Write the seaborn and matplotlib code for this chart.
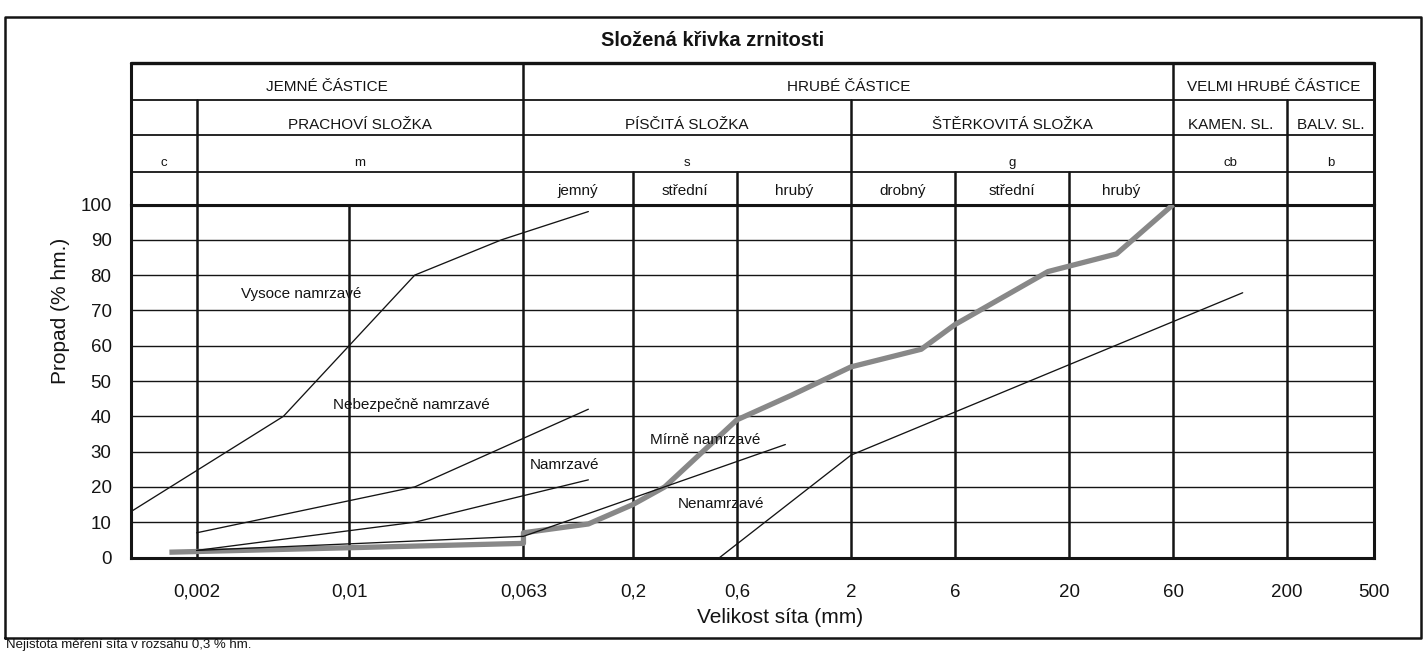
import numpy as np
import pandas as pd
import matplotlib
matplotlib.use('Agg')
import matplotlib.pyplot as plt
import seaborn as sns
from matplotlib.transforms import blended_transform_factory
from matplotlib.lines import Line2D
from matplotlib.ticker import NullLocator, FixedLocator, FixedFormatter

sns.set_theme(style='white')
plt.rcParams['font.family'] = ['Liberation Sans', 'DejaVu Sans']

# ---------------- data ----------------
sieve_ticks = [0.002, 0.01, 0.063, 0.2, 0.6, 2, 6, 20, 60, 200, 500]
sieve_labels = ['0,002', '0,01', '0,063', '0,2', '0,6', '2', '6', '20', '60', '200', '500']
y_ticks = [0, 10, 20, 30, 40, 50, 60, 70, 80, 90, 100]

# measured grading curve (thick grey)
sample_x = [0.0015, 0.063, 0.063, 0.125, 0.2, 0.28, 0.6, 1.07, 2, 4.2, 6, 16, 33, 60]
sample_y = [1.5, 4, 7, 9.5, 15, 20, 39, 46, 54, 59, 66, 81, 86, 100]

# frost-susceptibility boundary curves (thin)
vysoce_x = [0.001, 0.005, 0.02, 0.05, 0.125]
vysoce_y = [13, 40, 80, 90, 98]
nebezp_x = [0.002, 0.02, 0.125]
nebezp_y = [7, 20, 42]
namrz_x = [0.002, 0.02, 0.125]
namrz_y = [2, 10, 22]
mirne_x = [0.002, 0.063, 1.0]
mirne_y = [2, 6, 32]
nenamrz_x = [0.5, 2, 125]
nenamrz_y = [0, 29, 75]

zone_labels = ['Vysoce namrzavé', 'Nebezpečně namrzavé', 'Namrzavé', 'Mírně namrzavé', 'Nenamrzavé']
zone_label_pos = [(0.00319, 74.6), (0.00843, 43.1), (0.0675, 26.3), (0.24, 33.3), (0.322, 15.2)]

# header table
row1 = [('JEMNÉ ČÁSTICE', 0.001, 0.063), ('HRUBÉ ČÁSTICE', 0.063, 60), ('VELMI HRUBÉ ČÁSTICE', 60, 500)]
row2 = [('PRACHOVÍ SLOŽKA', 0.002, 0.063), ('PÍSČITÁ SLOŽKA', 0.063, 2), ('ŠTĚRKOVITÁ SLOŽKA', 2, 60),
        ('KAMEN. SL.', 60, 200), ('BALV. SL.', 200, 500)]
row3 = [('c', 0.001, 0.002), ('m', 0.002, 0.063), ('s', 0.063, 2), ('g', 2, 60), ('cb', 60, 200), ('b', 200, 500)]
row4 = [('jemný', 0.063, 0.2), ('střední', 0.2, 0.6), ('hrubý', 0.6, 2), ('drobný', 2, 6),
        ('střední', 6, 20), ('hrubý', 20, 60)]

# ---------------- figure ----------------
W, H = 1426, 652
fig = plt.figure(figsize=(W / 100, H / 100), dpi=100, facecolor='white')
ax = fig.add_axes([131 / W, 1 - 557.5 / H, (1374 - 131) / W, (557.5 - 204.5) / H])
ax.set_facecolor('white')
ax.set_xscale('log')
ax.set_xlim(0.001, 500)
ax.set_ylim(0, 100)

INK = '#141414'
T_TOP, T_R1, T_R2, T_R3 = 1.402, 1.297, 1.198, 1.091
bt = blended_transform_factory(ax.transData, ax.transAxes)

for v in y_ticks[1:-1]:
    ax.axhline(v, color=INK, lw=1.0, zorder=1)
ax.axhline(100, color=INK, lw=2.2, zorder=2)

vlines = [(0.002, T_R1), (0.01, 1.0), (0.063, T_TOP), (0.2, T_R3), (0.6, T_R3), (2, T_R1),
          (6, T_R3), (20, T_R3), (60, T_TOP), (200, T_R1)]
for xv, top in vlines:
    ax.add_line(Line2D([xv, xv], [0, top], transform=bt, color=INK, lw=1.8, clip_on=False, zorder=2))
for xv in (0.001, 500):
    ax.add_line(Line2D([xv, xv], [1.0, T_TOP], transform=bt, color=INK, lw=2.2, clip_on=False, zorder=2))
for yy, lw in [(T_TOP, 2.4), (T_R1, 1.3), (T_R2, 1.3), (T_R3, 1.3)]:
    ax.add_line(Line2D([0.001, 500], [yy, yy], transform=bt, color=INK, lw=lw, clip_on=False, zorder=2))

for s in ax.spines.values():
    s.set_visible(True)
    s.set_color(INK)
    s.set_linewidth(2.2)

sns.lineplot(x=sample_x, y=sample_y, ax=ax, color='#888888', lw=3.8, sort=False,
             estimator=None, zorder=3, solid_capstyle='butt')
for xs, ys in [(vysoce_x, vysoce_y), (nebezp_x, nebezp_y), (namrz_x, namrz_y),
               (mirne_x, mirne_y), (nenamrz_x, nenamrz_y)]:
    sns.lineplot(x=xs, y=ys, ax=ax, color=INK, lw=0.95, sort=False, estimator=None, zorder=4)

for lab, (xx, yy) in zip(zone_labels, zone_label_pos):
    ax.text(xx, yy, lab, fontsize=11, ha='left', va='center', color=INK, zorder=5)

def gcenter(a, b):
    return np.sqrt(a * b)

for lab, a, b in row1:
    ax.text(gcenter(a, b), 1.332, lab, transform=bt, ha='center', va='center', fontsize=11, color=INK)
for lab, a, b in row2:
    ax.text(gcenter(a, b), 1.224, lab, transform=bt, ha='center', va='center', fontsize=11, color=INK)
for lab, a, b in row3:
    ax.text(gcenter(a, b), 1.118, lab, transform=bt, ha='center', va='center', fontsize=9.5, color=INK)
for lab, a, b in row4:
    ax.text(gcenter(a, b), 1.037, lab, transform=bt, ha='center', va='center', fontsize=11, color=INK)

ax.xaxis.set_major_locator(FixedLocator(sieve_ticks))
ax.xaxis.set_major_formatter(FixedFormatter(sieve_labels))
ax.xaxis.set_minor_locator(NullLocator())
ax.set_yticks(y_ticks)
ax.set_yticklabels([str(v) for v in y_ticks])
ax.tick_params(axis='x', length=0, pad=19, labelsize=13.5, colors=INK)
ax.tick_params(axis='y', length=0, pad=14, labelsize=13.5, colors=INK)
ax.grid(False)

ax.set_xlabel('Velikost síta (mm)', fontsize=15, color=INK)
ax.set_ylabel('Propad (% hm.)', fontsize=15, color=INK)
ax.xaxis.set_label_coords(0.522, -0.170)
ax.yaxis.set_label_coords(-0.057, 0.70)
ax.xaxis.label.set_va('center')
ax.yaxis.label.set_va('center')

fig.text(713 / W, 1 - 41 / H, 'Složená křivka zrnitosti', ha='center', va='center',
         fontsize=14.5, fontweight='bold', color=INK)

fx0, fx1, fy0, fy1 = 5 / W, 1421 / W, 1 - 638 / H, 1 - 16.5 / H
fig.add_artist(Line2D([fx0, fx1, fx1, fx0, fx0], [fy0, fy0, fy1, fy1, fy0], transform=fig.transFigure,
                      color=INK, lw=1.8))

fig.text(6 / W, 1 - 651 / H, 'Nejistota měření síta v rozsahu 0,3 % hm.', ha='left', va='bottom',
         fontsize=9.5, color=INK)

fig.savefig('out.png', dpi=100, facecolor='white')
